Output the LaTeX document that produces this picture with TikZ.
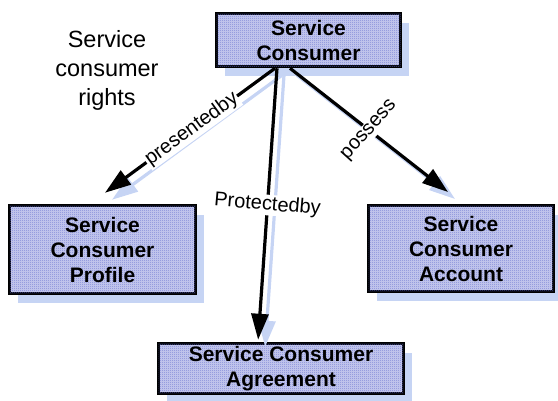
\documentclass[tikz,border=0pt]{standalone}
\usepackage{fontspec}
\setmainfont{Liberation Sans}
\usetikzlibrary{arrows.meta,shadows,calc,patterns.meta}
\definecolor{boxfill}{RGB}{205,208,240}
\definecolor{boxdot}{RGB}{95,105,205}
\definecolor{shadc}{RGB}{198,212,244}
\tikzdeclarepattern{name=dotgrid, type=uncolored,
  bottom left={(0pt,0pt)}, top right={(2pt,2pt)}, tile size={(2pt,2pt)},
  code={\fill (0pt,0pt) rectangle (1pt,1pt); \fill (1pt,1pt) rectangle (2pt,2pt);}}
\begin{document}
\begin{tikzpicture}[x=1pt,y=-1pt,
 box/.style={draw=black,line width=3.5pt,fill=boxfill,postaction={pattern={dotgrid},pattern color=boxdot},
   font=\bfseries\fontsize{21}{25}\selectfont,align=center,inner sep=0pt,
   drop shadow={shadow xshift=8pt,shadow yshift=-9pt,fill=shadc,opacity=1}},
 arr/.style={line width=3.2pt,-{Triangle[length=26pt,width=17pt]}},
 shd/.style={arr,draw=shadc},
 lab/.style={fill=white,inner sep=1pt,font=\fontsize{20}{24}\selectfont}]
\useasboundingbox (0,0) rectangle (558,400);
\node[box,minimum width=184pt,minimum height=53pt] (top) at (308.5,40) {Service\\Consumer};
\node[box,minimum width=186pt,minimum height=88pt] (prof) at (102.5,249.5) {Service\\Consumer\\Profile};
\node[box,minimum width=185pt,minimum height=86pt] (acc) at (461,248.5) {Service\\Consumer\\Account};
\node[box,minimum width=245pt,minimum height=50pt] (agr) at (281,368.5) {Service Consumer\\Agreement};
\node[font=\fontsize{23.5}{29}\selectfont,align=center] (rights) at (107,70) {Service\\consumer\\rights};
% connector shadows
\draw[shd,shorten >=18.6pt] ($(top.south)+(-26.5,7)$) -- ($(prof.north)+(-5.5,7)$);
\draw[shd,shorten >=2pt] ($(top.south)+(-24.5,7)$) -- ($(agr.north)+(-16,7)$);
\draw[shd,shorten >=19pt] ($(top.south)+(-11.5,7)$) -- ($(acc.north)+(9,7)$);
% connectors
\draw[arr,shorten >=18.6pt] ($(top.south)+(-33.5,0)$) -- ($(prof.north)+(-12.5,0)$)
  node[lab,pos=0.45,rotate=36] {presentedby};
\draw[arr,shorten >=2pt] ($(top.south)+(-31.5,0)$) -- ($(agr.north)+(-23,0)$)
  node[lab,pos=0.5,rotate=-5] {Protectedby};
\draw[arr,shorten >=19pt] ($(top.south)+(-18.5,0)$) -- ($(acc.north)+(2,0)$)
  node[lab,pos=0.46,rotate=48] {possess};
\end{tikzpicture}
\end{document}
